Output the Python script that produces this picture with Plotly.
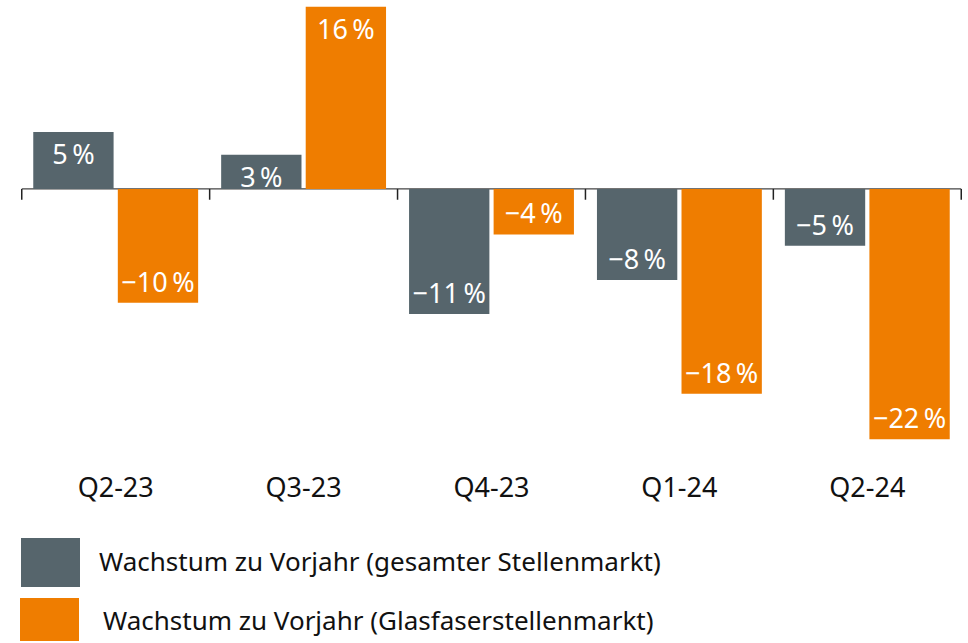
import plotly.graph_objects as go

categories = ["Q2-23", "Q3-23", "Q4-23", "Q1-24", "Q2-24"]
series_names = ["Wachstum zu Vorjahr (gesamter Stellenmarkt)",
                "Wachstum zu Vorjahr (Glasfaserstellenmarkt)"]
gesamt = [5, 3, -11, -8, -5]
glasfaser = [-10, 16, -4, -18, -22]
colors = ["#56656c", "#ef7d00"]

FONT = "Noto Sans"
W, H = 968, 643
L, R, T, B = 21, 6, 0, 198
PW, PH = W - L - R, H - T - B


def fmt(v):
    return ("\u2212" if v < 0 else "") + f"{abs(v)}\u2009%"


def px(p):
    return (p - L) / PW


def py(p):
    return (T + PH - p) / PH


fig = go.Figure()
for name, vals, col in zip(series_names, [gesamt, glasfaser], colors):
    fig.add_trace(go.Bar(
        x=categories, y=vals, name=name, marker=dict(color=col, line=dict(width=0)),
        text=[fmt(v) for v in vals], textposition="inside", insidetextanchor="end",
        textfont=dict(color="white", size=27, family=FONT), cliponaxis=False,
        showlegend=False,
    ))

shapes = []
for i in range(len(categories) + 1):
    shapes.append(dict(type="line", xref="x", yref="y", x0=i - 0.5, x1=i - 0.5,
                       y0=0, y1=-0.95, line=dict(color="#222222", width=1.5)))
shapes.append(dict(type="line", xref="x", yref="y", x0=-0.5, x1=len(categories) - 0.5,
                   y0=0, y1=0, line=dict(color="#444444", width=1.2), layer="below"))

annotations = []
legend_boxes = [(21, 80, 538, 587), (20, 79, 598, 641)]
legend_text_y = [561, 620]
legend_text_x = [97, 101]
for (x0, x1, y0, y1), col, name, ty, tx in zip(legend_boxes, colors, series_names,
                                               legend_text_y, legend_text_x):
    shapes.append(dict(type="rect", xref="paper", yref="paper", x0=px(x0), x1=px(x1),
                       y0=py(y1), y1=py(y0), fillcolor=col, line=dict(width=0)))
    annotations.append(dict(xref="paper", yref="paper", x=px(tx), y=py(ty), text=name,
                            showarrow=False, xanchor="left", yanchor="middle",
                            font=dict(family=FONT, size=26, color="#111111")))

fig.update_layout(
    width=W, height=H, margin=dict(l=L, r=R, t=T, b=B, autoexpand=False),
    paper_bgcolor="white", plot_bgcolor="white",
    barmode="group", bargap=0.10, bargroupgap=0.05,
    uniformtext=dict(minsize=27, mode="show"),
    shapes=shapes, annotations=annotations,
    font=dict(family=FONT, color="#111111"),
    xaxis=dict(showgrid=False, showline=False, zeroline=False, ticks="",
               tickfont=dict(size=27, family=FONT, color="#111111"),
               ticklabelstandoff=24),
    yaxis=dict(range=[-22.5, 16.6], showgrid=False, zeroline=False, showline=False,
               showticklabels=False, ticks=""),
)

fig.write_html("out.html")
